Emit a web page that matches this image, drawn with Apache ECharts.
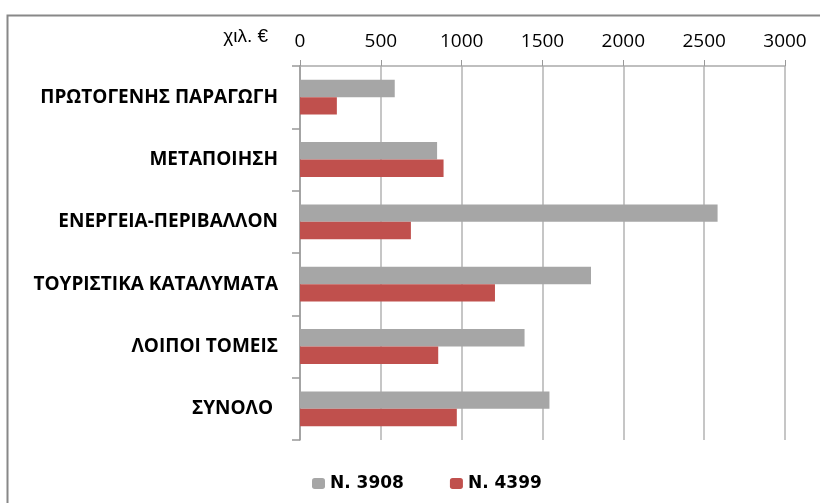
<!DOCTYPE html>
<html>
<head>
<meta charset="utf-8">
<script src="https://cdn.jsdelivr.net/npm/echarts@6/dist/echarts.min.js"></script>
<style>
    html, body { margin: 0; padding: 0; background: #fff; }
    #main { width: 820px; height: 503px; }
</style>
</head>
<body>
<div id="main"></div>
<script>
    // categories, top to bottom
    var categories = ['ΠΡΩΤΟΓΕΝΗΣ ΠΑΡΑΓΩΓΗ', 'ΜΕΤΑΠΟΙΗΣΗ', 'ΕΝΕΡΓΕΙΑ-ΠΕΡΙΒΑΛΛΟΝ',
        'ΤΟΥΡΙΣΤΙΚΑ ΚΑΤΑΛΥΜΑΤΑ', 'ΛΟΙΠΟΙ ΤΟΜΕΙΣ', 'ΣΥΝΟΛΟ '];
    var seriesNames = ['N. 3908', 'N. 4399'];
    var law3908 = [586, 848, 2583, 1800, 1389, 1543];
    var law4399 = [228, 888, 686, 1206, 855, 970];
    var unitLabel = 'χιλ. €';

    var myChart = echarts.init(document.getElementById('main'));

    var option = {
        animation: false,
        backgroundColor: '#fff',
        textStyle: { fontFamily: 'Open Sans' },
        grid: { left: 300, right: 35, top: 66, bottom: 63 },
        legend: {
            top: 470,
            left: 307,
            itemWidth: 13,
            itemHeight: 11,
            itemGap: 46,
            textStyle: { fontSize: 17, fontWeight: 'bold', color: '#000', fontFamily: 'DejaVu Sans' },
            data: seriesNames
        },
        xAxis: {
            type: 'value',
            position: 'top',
            min: 0,
            max: 3000,
            interval: 500,
            axisLine: { show: true, lineStyle: { color: '#aaa', width: 1.5 } },
            axisTick: { show: true, length: 6, lineStyle: { color: '#999' } },
            axisLabel: { fontSize: 19, color: '#000', margin: 15,
                formatter: function (v) { return String(v); } },
            splitLine: { show: true, lineStyle: { color: '#b3b3b3', width: 1.5 } }
        },
        yAxis: {
            type: 'category',
            inverse: true,
            data: categories,
            axisLine: { show: true, lineStyle: { color: '#999', width: 1.5 } },
            axisTick: { show: true, length: 8, lineStyle: { color: '#999', width: 1.5 } },
            axisLabel: { fontSize: 19, fontWeight: 'bold', color: '#000', margin: 22 }
        },
        series: [
            {
                name: seriesNames[0],
                type: 'bar',
                data: law3908,
                barGap: '0%',
                barCategoryGap: '44%',
                itemStyle: { color: '#a6a6a6' }
            },
            {
                name: seriesNames[1],
                type: 'bar',
                data: law4399,
                itemStyle: { color: '#c0504d' }
            }
        ],
        graphic: [{
            type: 'rect',
            shape: { x: 7.5, y: 15.5, width: 830, height: 510 },
            style: { fill: 'none', stroke: '#888', lineWidth: 2 },
            silent: true
        }, {
            type: 'text',
            right: 552,
            top: 27,
            style: { text: unitLabel, fontSize: 19, fill: '#000' }
        }]
    };
    myChart.setOption(option);
</script>
</body>
</html>
